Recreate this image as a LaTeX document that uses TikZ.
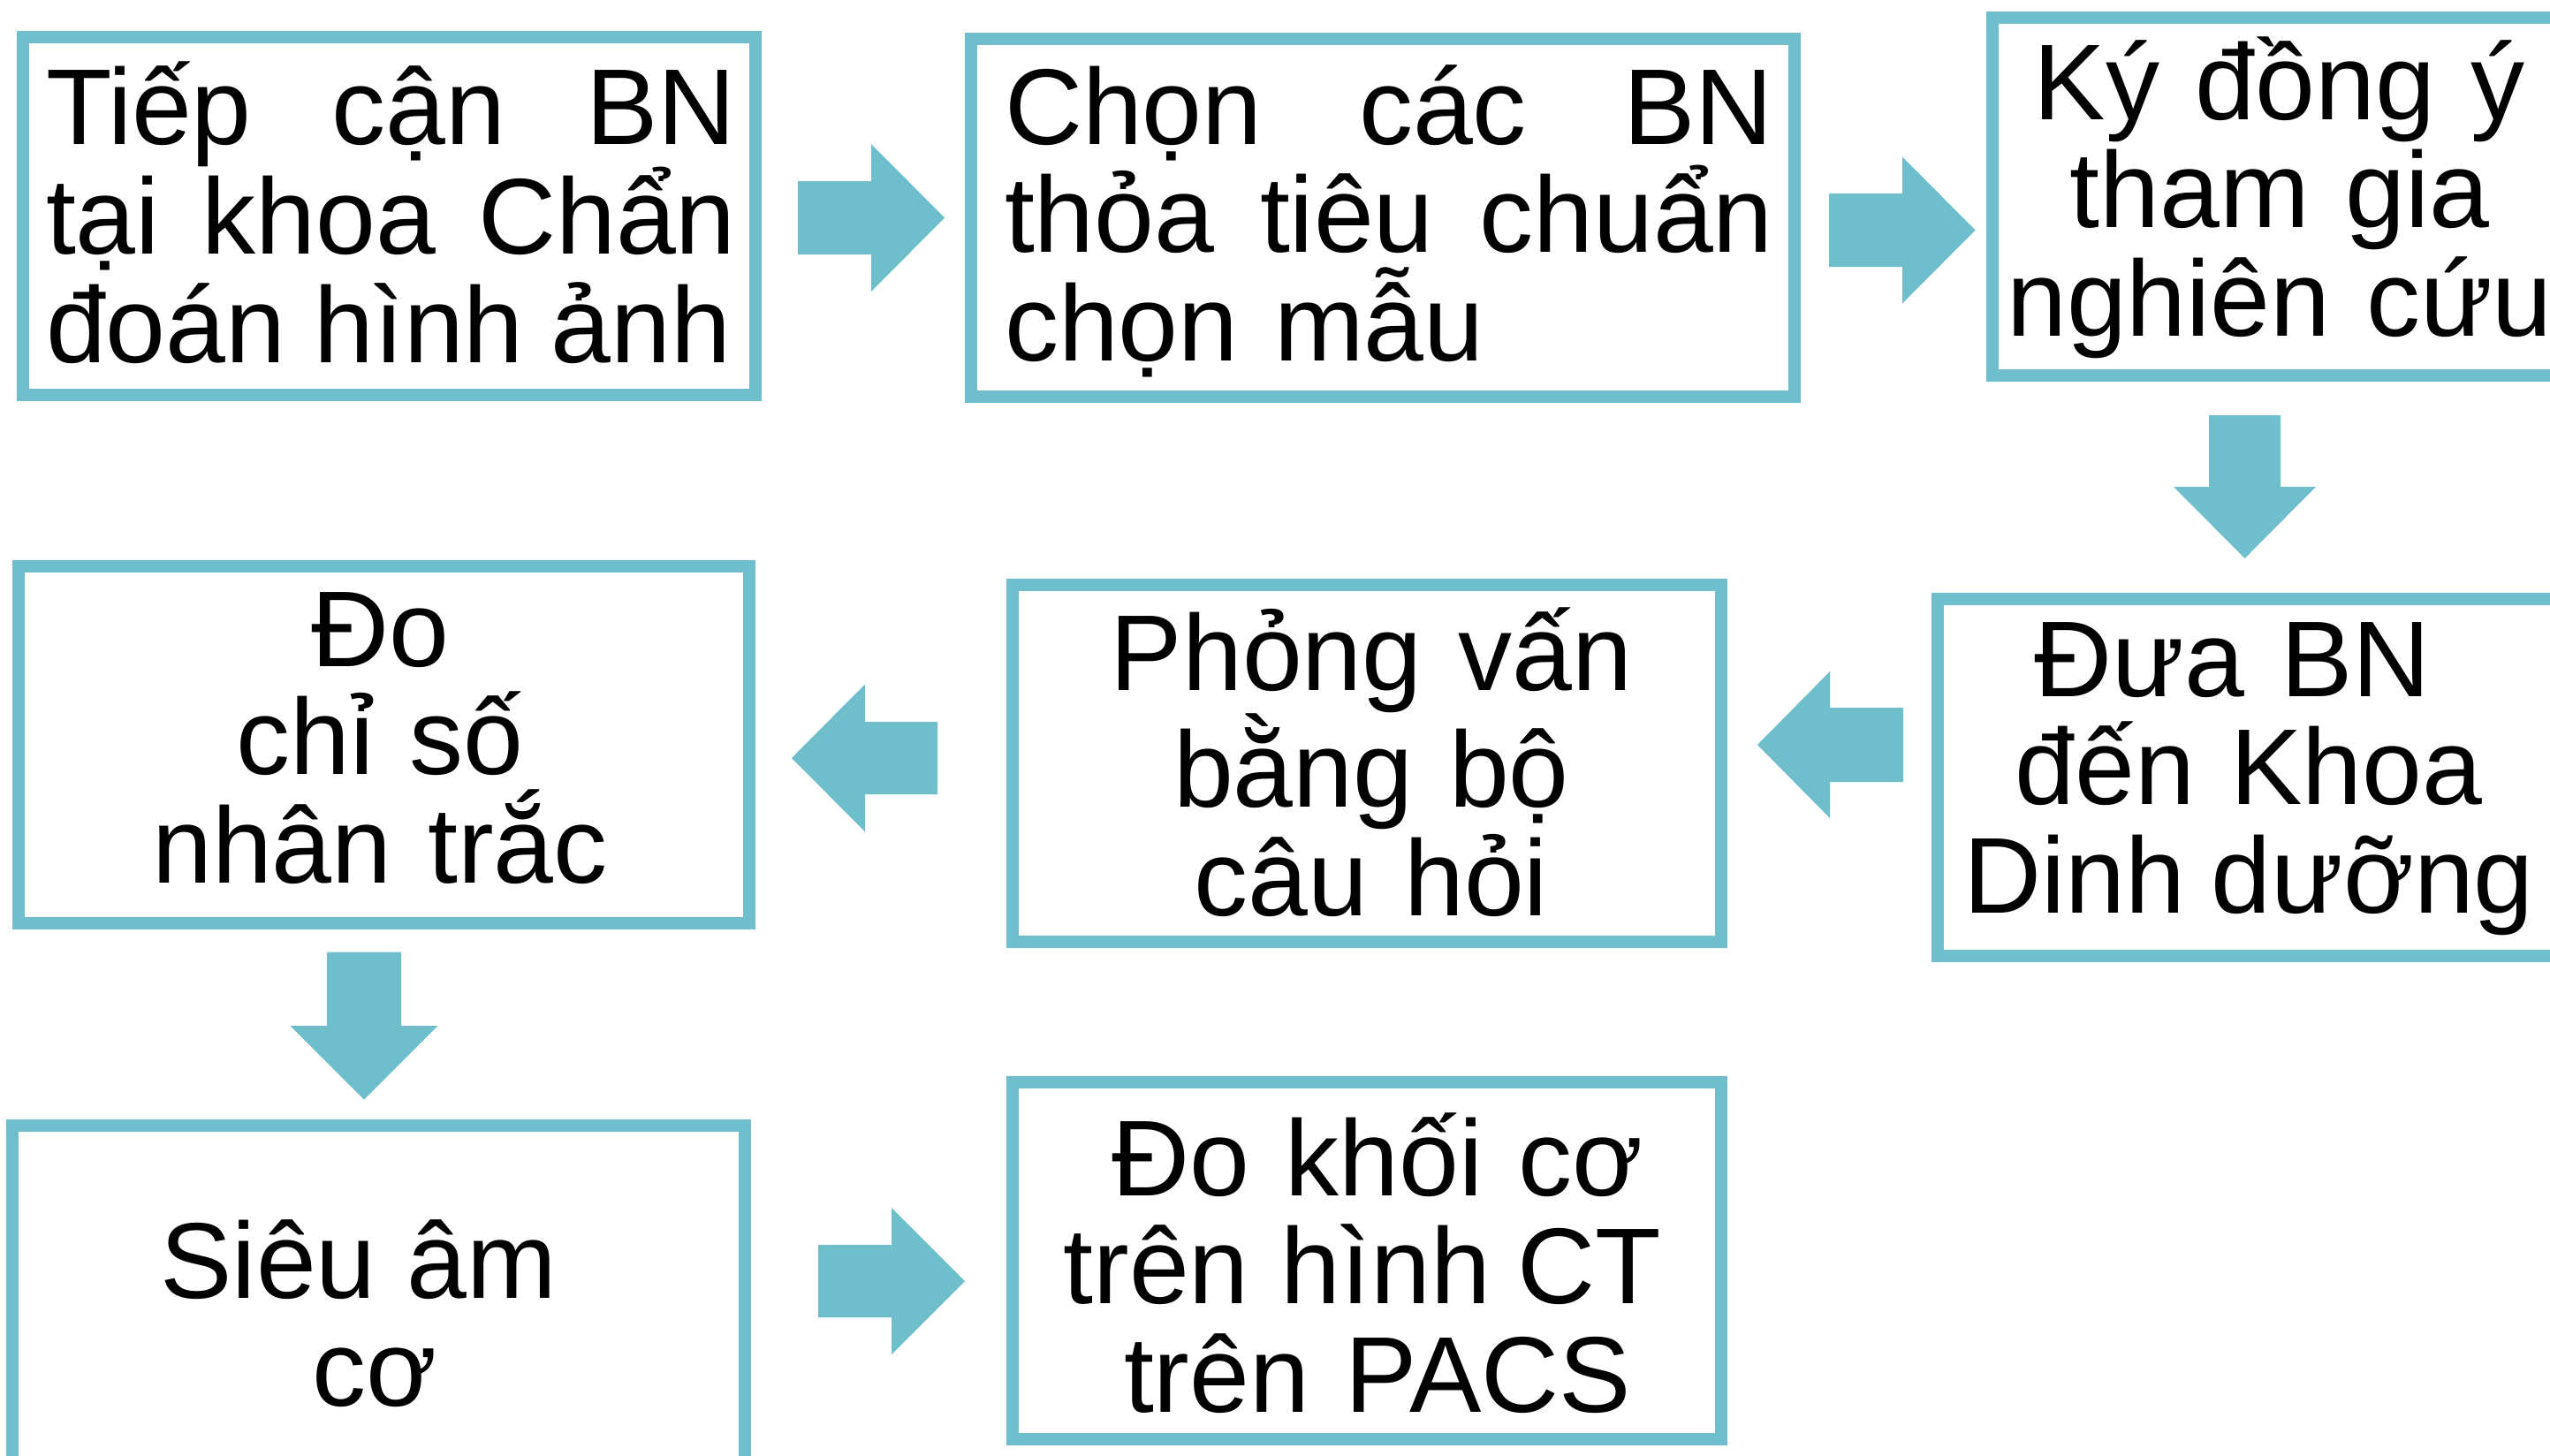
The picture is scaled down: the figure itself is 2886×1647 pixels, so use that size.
\documentclass[tikz,border=0pt]{standalone}
\usepackage{fontspec}
\setmainfont{Liberation Sans}
\usetikzlibrary{calc}
\definecolor{tealc}{RGB}{111,190,204}
\tikzset{
  boxnode/.style={draw=tealc, line width=14pt, fill=white, rectangle, inner sep=0pt, outer sep=0pt},
  txt/.style={inner sep=0pt, outer sep=0pt, font=\fontsize{122}{122.7}\selectfont, text=black},
  arrowfill/.style={fill=tealc, draw=none}
}
% #1 tail, #2 tip, #3 shaft half width, #4 head half width, #5 head length
\newcommand\blockarr[5]{%
  \coordinate (hb) at ($(#2)!#5!(#1)$);
  \fill[arrowfill] ($(#1)!#3!90:(#2)$) -- ($(hb)!#3!-90:(#1)$) -- ($(hb)!#4!-90:(#1)$) -- (#2)
    -- ($(hb)!#4!90:(#1)$) -- ($(hb)!#3!90:(#1)$) -- ($(#1)!#3!-90:(#2)$) -- cycle;
}
\begin{document}
\begin{tikzpicture}[x=1pt,y=-1pt]
\useasboundingbox (0,0) rectangle (2886,1647);
\clip (0,0) rectangle (2886,1647);
\fill[white] (0,0) rectangle (2886,1647);

% boxes
\node[boxnode, minimum width=829pt, minimum height=405pt] (b1) at (440.5,244.5) {};
\node[boxnode, minimum width=932pt, minimum height=405pt] (b2) at (1565,246.5) {};
\node[boxnode, minimum width=650pt, minimum height=405pt] (b3) at (2580,222.5) {};
\node[boxnode, minimum width=705pt, minimum height=404pt] (b4) at (2545.5,880) {};
\node[boxnode, minimum width=802pt, minimum height=404pt] (b5) at (1547,864) {};
\node[boxnode, minimum width=827pt, minimum height=404pt] (b6) at (434.5,843) {};
\node[boxnode, minimum width=829pt, minimum height=405pt] (b7) at (428.5,1476.5) {};
\node[boxnode, minimum width=802pt, minimum height=404pt] (b8) at (1547,1427) {};

% texts
\node[txt, anchor=base west, text width=781pt, align=left] (t1) at (52,163)
  {Tiếp\hfill cận\hfill BN\\tại\hfill khoa\hfill Chẩn\\\mbox{đoán\kern-0.07em{} hình\kern-0.08em{} ảnh}};
\node[txt, anchor=base west, text width=870pt, align=left] (t2) at (1137,163)
  {Chọn\hfill các\hfill BN\\thỏa\hfill tiêu\hfill chuẩn\\\mbox{chọn mẫu}};
\node[txt, anchor=base, text width=900pt, align=center] (t3) at (2580,135)
  {Ký đồng ý\\tham gia\\nghiên cứu};
\node[txt, anchor=base, text width=900pt, align=center] (t4) at (2545,788)
  {Đưa BN\kern0.3em\\đến Khoa\\Dinh\kern-0.09em{} dưỡng};
\node[txt, anchor=base, text width=900pt, align=center] (t5) at (1552,781.5)
  {Phỏng vấn\\bằng bộ\\câu hỏi};
\node[txt, anchor=base, text width=900pt, align=center] (t6) at (430,754)
  {Đo\\chỉ số\\nhân trắc};
\node[txt, anchor=base, text width=900pt, align=center] (t7) at (424,1469)
  {Siêu\kern-0.05em{} âm\kern0.3em\\cơ};
\node[txt, anchor=base, text width=900pt, align=center] (t8) at (1542,1353)
  {\hspace*{0.28em}Đo khối cơ\\trên\kern-0.04em{} hình\kern-0.08em{} CT\\\hspace*{0.28em}trên PACS};

% arrow end points
\coordinate (a1s) at (903,246.5);   \coordinate (a1e) at (1069,246.5);
\coordinate (a2s) at (2070,260.5);  \coordinate (a2e) at (2235.5,260.5);
\coordinate (a3s) at (2540.5,470);  \coordinate (a3e) at (2540.5,632);
\coordinate (a4s) at (2154,843);    \coordinate (a4e) at (1989,843);
\coordinate (a5s) at (1061,858);    \coordinate (a5e) at (896,858);
\coordinate (a6s) at (412,1077.5);  \coordinate (a6e) at (412,1244.5);
\coordinate (a7s) at (926,1450);    \coordinate (a7e) at (1092,1450);

\blockarr{a1s}{a1e}{41.5pt}{83.5pt}{83pt}
\blockarr{a2s}{a2e}{41.5pt}{83pt}{82.5pt}
\blockarr{a3s}{a3e}{40.5pt}{80.5pt}{81pt}
\blockarr{a4s}{a4e}{42pt}{83pt}{82pt}
\blockarr{a5s}{a5e}{41pt}{83.5pt}{83pt}
\blockarr{a6s}{a6e}{42pt}{83.5pt}{83.5pt}
\blockarr{a7s}{a7e}{41pt}{83pt}{83pt}
\end{tikzpicture}
\end{document}
